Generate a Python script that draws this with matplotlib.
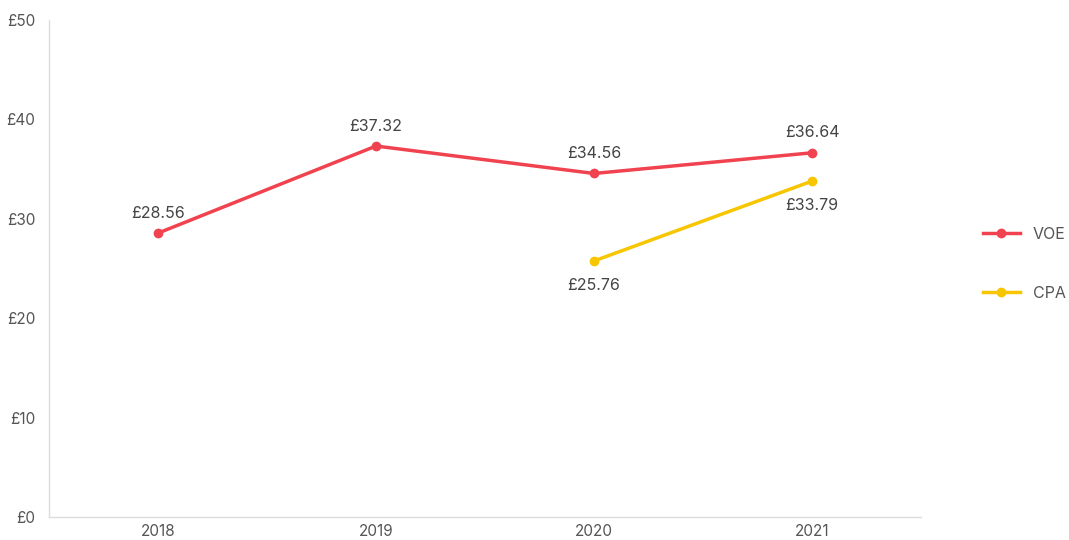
import numpy as np
import matplotlib
matplotlib.use("Agg")
import matplotlib.pyplot as plt
from matplotlib.lines import Line2D

years = ["2018", "2019", "2020", "2021"]
voe = [28.56, 37.32, 34.56, 36.64]
cpa = [np.nan, np.nan, 25.76, 33.79]
yticks = [0, 10, 20, 30, 40, 50]

RED = "#F0434F"
YELLOW = "#F7C600"
GREY = "#555555"

plt.rcParams['font.family'] = ['Inter', 'DejaVu Sans']

fig = plt.figure(figsize=(10.69, 5.4), dpi=100)
ax = fig.add_axes([49 / 1069, 23 / 540, (921 - 49) / 1069, 497 / 540])

x = np.arange(len(years))
ax.plot(x, voe, color=RED, lw=2.5, marker="o", ms=6, zorder=3)
ax.plot(x, cpa, color=YELLOW, lw=2.5, marker="o", ms=6, zorder=3)

# 数据标签
for xi, v in zip(x, voe):
    ax.annotate(f"£{v:.2f}", (xi, v), xytext=(0, 9), textcoords="offset points",
                ha="center", va="bottom", fontsize=11.5, color="#444444")
for xi, v in zip(x, cpa):
    if np.isnan(v):
        continue
    ax.annotate(f"£{v:.2f}", (xi, v), xytext=(0, -12), textcoords="offset points",
                ha="center", va="top", fontsize=11.5, color="#444444")

ax.set_xlim(-0.5, 3.5)
ax.set_ylim(0, 50)
ax.set_xticks(x)
ax.set_xticklabels(years)
ax.set_yticks(yticks)
ax.set_yticklabels([f"£{t}" for t in yticks])
ax.tick_params(length=0, labelsize=11, colors=GREY)
ax.tick_params(axis="x", pad=5)
ax.tick_params(axis="y", pad=10)
for s in ["top", "right"]:
    ax.spines[s].set_visible(False)
for s in ["left", "bottom"]:
    ax.spines[s].set_color("#DDDDDD")
    ax.spines[s].set_linewidth(1)

handles = [Line2D([], [], color=RED, lw=2.5, marker="o", ms=6),
           Line2D([], [], color=YELLOW, lw=2.5, marker="o", ms=6)]
fig.legend(handles, ["VOE", "CPA"], loc="center left", bbox_to_anchor=(983 / 1069, 1 - 264 / 540),
           frameon=False, fontsize=11.5, labelcolor=GREY, handlelength=2.3,
           labelspacing=2.75, handletextpad=0.8, borderpad=0, borderaxespad=0)

fig.savefig("out.png", dpi=100)
